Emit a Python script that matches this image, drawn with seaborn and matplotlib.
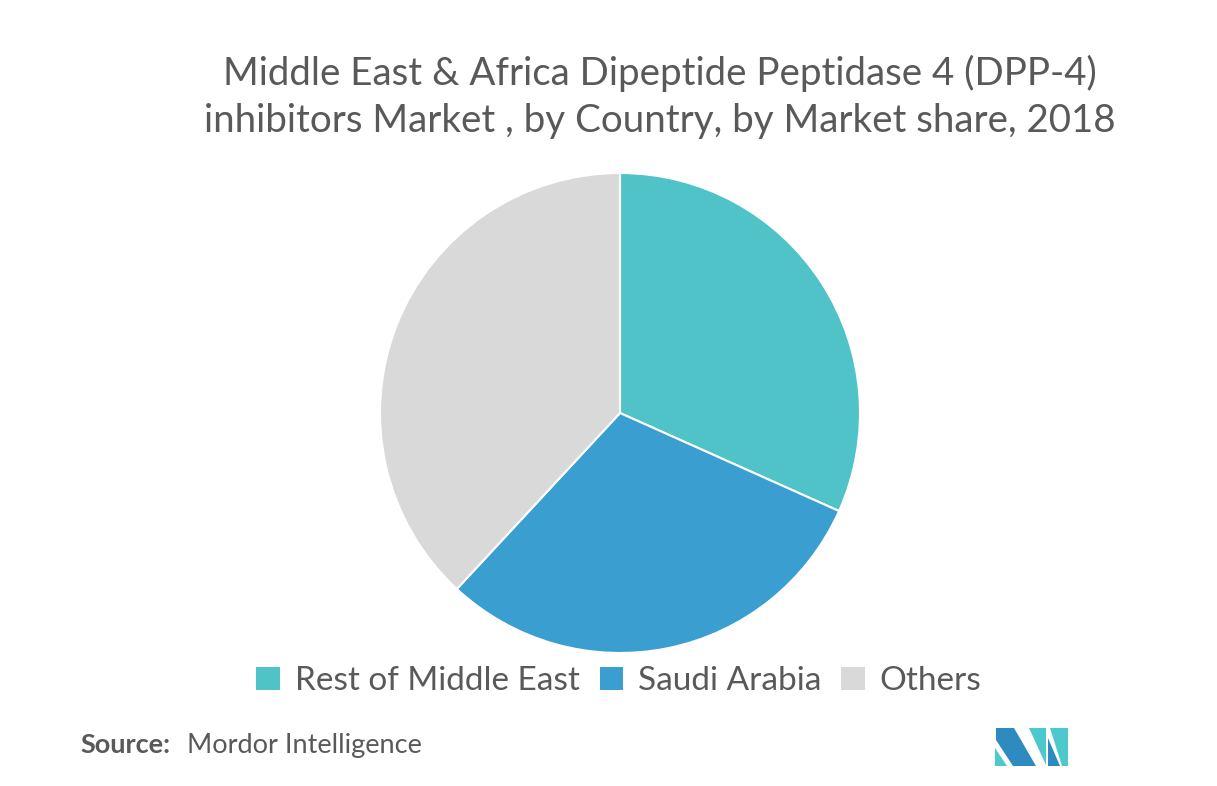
import matplotlib
matplotlib.use("Agg")
import matplotlib.pyplot as plt
import seaborn as sns
from matplotlib.patches import Patch, Polygon

# data
countries = ["Rest of Middle East", "Saudi Arabia", "Others"]
share = [31.7, 30.2, 38.1]
colors = ["#4fc3c8", "#3a9fd0", "#d9d9d9"]

title = ("Middle East & Africa Dipeptide Peptidase 4 (DPP-4)\n"
         "inhibitors Market , by Country, by Market share, 2018")

sns.set_theme(style="white")
plt.rcParams["font.family"] = ["Lato", "DejaVu Sans"]
txt = "#595959"

W, H = 1217, 786
fig = plt.figure(figsize=(W / 100, H / 100), dpi=100)
fig.patch.set_facecolor("white")

# pie in a square box: centre (620,413), radius 240 px
cx, cy, r = 620, 413, 240
ax = fig.add_axes([(cx - r) / W, (H - cy - r) / H, 2 * r / W, 2 * r / H])
ax.pie(share, colors=colors, startangle=90, counterclock=False,
       wedgeprops=dict(edgecolor="white", linewidth=1.5))
ax.set_xlim(-1, 1)
ax.set_ylim(-1, 1)
ax.set_aspect("auto")
ax.axis("off")

fig.text(660 / W, 1 - 97 / H, title, ha="center", va="center", fontsize=27.7,
         color=txt, linespacing=1.4)

handles = [Patch(facecolor=c, edgecolor="none") for c in colors]
fig.legend(handles, countries, loc="center", bbox_to_anchor=(619 / W, 1 - 681 / H),
           ncol=3, frameon=False, fontsize=24, labelcolor=txt,
           handlelength=0.7, handleheight=0.7, handletextpad=0.45,
           columnspacing=0.6)

fig.text(80 / W, 1 - 745 / H, "Source:", ha="left", va="center",
         fontsize=19.5, fontweight="bold", color=txt)
fig.text(187 / W, 1 - 745 / H, "Mordor Intelligence", ha="left", va="center",
         fontsize=19.5, color=txt)

# rough logo
def px(pts):
    return [(x / W, 1 - y / H) for x, y in pts]

logo = [
    ([(995, 748), (1007, 766), (995, 766)], "#4cc9cc"),
    ([(996, 728), (1014, 728), (1036, 766), (1013, 766), (996, 740)], "#2e8bc0"),
    ([(1029, 728), (1046, 728), (1046, 765)], "#4cc9cc"),
    ([(1048, 738), (1060, 766), (1048, 766)], "#2e8bc0"),
    ([(1050, 728), (1068, 728), (1068, 766), (1062, 766)], "#4cc9cc"),
]
for pts, c in logo:
    fig.patches.append(Polygon(px(pts), closed=True, facecolor=c,
                               edgecolor="none", transform=fig.transFigure))

fig.savefig("out.png", dpi=100, facecolor="white")
